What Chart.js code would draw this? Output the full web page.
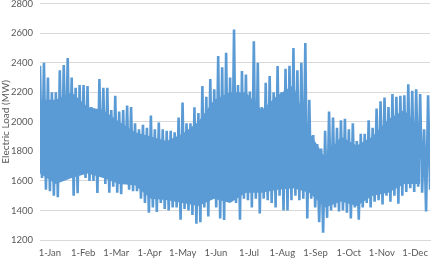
<!DOCTYPE html>
<html>
<head>
<meta charset="utf-8">
<script src="https://cdn.jsdelivr.net/npm/chart.js@4.4.1/dist/chart.umd.min.js"></script>
<style>
  html, body { margin: 0; padding: 0; background: #fff; overflow: hidden; }
  #wrap { position: relative; width: 435px; height: 271px; margin-top: -9px; }
</style>
</head>
<body>
<div id="wrap"><canvas id="loadChart"></canvas></div>
<script>
// Axis labels as printed on the chart
const monthLabels = ['1-Jan', '1-Feb', '1-Mar', '1-Apr', '1-May', '1-Jun',
                     '1-Jul', '1-Aug', '1-Sep', '1-Oct', '1-Nov', '1-Dec'];
const yTicks = [1200, 1400, 1600, 1800, 2000, 2200, 2400, 2600, 2800];

// Load envelope, one entry per ~3.7 days (MW)
const periodHigh = [
  2380, 2400, 2300, 2200, 2200, 2350, 2385, 2433, 2300, 2230,
  2250, 2250, 2243, 2100, 2070, 2290, 2230, 2230, 2080, 2177,
  2070, 2080, 2110, 2100, 1990, 1950, 1980, 1960, 2042, 1950,
  1995, 1950, 1940, 1940, 1930, 2030, 2131, 1990, 1990, 2098,
  2060, 2243, 2170, 2290, 2220, 2445, 2370, 2467, 2300, 2626,
  2250, 2344, 2320, 2205, 2545, 2400, 2100, 2265, 2310, 2200,
  2378, 2200, 2360, 2380, 2500, 2350, 2400, 2534, 2150, 1910,
  1850, 1820, 1940, 2070, 2030, 1960, 2010, 2020, 1950, 1990,
  1870, 1920, 1920, 2010, 1960, 2090, 2140, 2165, 2100, 2188,
  2170, 2177, 2180, 2255, 2210, 2220, 2188, 1950, 2180
];
const periodLow = [
  1620, 1540, 1530, 1500, 1490, 1640, 1700, 1620, 1500, 1517,
  1660, 1620, 1600, 1600, 1518, 1650, 1580, 1520, 1560, 1520,
  1510, 1600, 1540, 1530, 1530, 1480, 1450, 1385, 1420, 1390,
  1450, 1410, 1400, 1420, 1420, 1338, 1410, 1400, 1370, 1310,
  1320, 1420, 1360, 1480, 1420, 1345, 1335, 1500, 1500, 1450,
  1338, 1480, 1470, 1420, 1480, 1380, 1480, 1470, 1450, 1420,
  1500, 1400, 1400, 1470, 1500, 1470, 1480, 1345, 1480, 1420,
  1320, 1250, 1350, 1400, 1420, 1393, 1400, 1385, 1345, 1420,
  1338, 1420, 1450, 1420, 1460, 1470, 1440, 1500, 1460, 1500,
  1445, 1500, 1525, 1550, 1525, 1560, 1520, 1393, 1540
];

// solid part of the band (no white gaps), one entry per ~15 days (MW)
const coreTop = [
  2150, 2150, 2200, 2100, 2080, 2000, 1930, 1900, 1870, 1920,
  2000, 2150, 2200, 2200, 2080, 2180, 2250, 1930, 1760, 1900,
  1840, 1900, 2020, 2080, 1950
];
const coreBottom = [
  1650, 1580, 1620, 1650, 1620, 1580, 1570, 1480, 1470, 1450,
  1430, 1480, 1450, 1520, 1520, 1540, 1550, 1520, 1420, 1460,
  1430, 1500, 1520, 1580, 1580
];

const daysPerPeriod = 365 / (periodHigh.length - 0.5);
const periodsPerCore = 4;
const firstLabelDay = 9.3;
const labelEvery = 31.06;
const blue = '#5b9bd5';

// zig-zag between each period's high and low, like the hourly trace
const zigzag = [];
periodHigh.forEach(function (h, i) {
  zigzag.push({ x: i * daysPerPeriod, y: h });
  zigzag.push({ x: (i + 0.5) * daysPerPeriod, y: periodLow[i] });
});
const coreTopPoints = coreTop.map(function (v, i) {
  return { x: i * periodsPerCore * daysPerPeriod, y: v };
});
const coreBottomPoints = coreBottom.map(function (v, i) {
  return { x: i * periodsPerCore * daysPerPeriod, y: v };
});

const ctx = document.getElementById('loadChart').getContext('2d');
new Chart(ctx, {
  type: 'line',
  data: {
    datasets: [{
      label: 'Electric Load',
      data: zigzag,
      borderColor: blue,
      borderWidth: 2.6,
      borderJoinStyle: 'bevel',
      pointRadius: 0,
      tension: 0,
      fill: false
    }, {
      label: 'core top',
      data: coreTopPoints,
      borderWidth: 0,
      borderColor: blue,
      backgroundColor: blue,
      pointRadius: 0,
      tension: 0,
      fill: '+1'
    }, {
      label: 'core bottom',
      data: coreBottomPoints,
      borderWidth: 0,
      borderColor: blue,
      pointRadius: 0,
      tension: 0,
      fill: false
    }]
  },
  options: {
    responsive: true,
    maintainAspectRatio: false,
    animation: false,
    layout: { padding: { left: 0, right: 2, top: 0, bottom: 0 } },
    plugins: {
      legend: { display: false },
      tooltip: { enabled: false }
    },
    scales: {
      x: {
        type: 'linear',
        min: 0,
        max: 365,
        grid: { display: false, drawTicks: false },
        border: { display: true, color: '#d9d9d9' },
        afterBuildTicks: function (scale) {
          scale.ticks = monthLabels.map(function (m, k) {
            return { value: firstLabelDay + k * labelEvery };
          });
        },
        afterFit: function (scale) { scale.height = 22; },
        ticks: {
          autoSkip: false,
          maxRotation: 0,
          padding: 7,
          color: '#595959',
          font: { family: 'Lato', size: 9.5 },
          callback: function (v, idx) { return monthLabels[idx]; }
        }
      },
      y: {
        min: yTicks[0],
        max: yTicks[yTicks.length - 1],
        afterBuildTicks: function (scale) {
          scale.ticks = yTicks.map(function (v) { return { value: v }; });
        },
        afterFit: function (scale) { scale.width = 40; },
        grid: { color: '#d9d9d9', drawTicks: false },
        border: { display: false },
        ticks: {
          padding: 7,
          color: '#595959',
          font: { family: 'Lato', size: 9.5 },
          callback: function (v) { return String(v); }
        },
        title: {
          display: true,
          text: 'Electric Load (MW)',
          color: '#595959',
          padding: 0,
          font: { family: 'Lato', size: 10 }
        }
      }
    }
  }
});
</script>
</body>
</html>
